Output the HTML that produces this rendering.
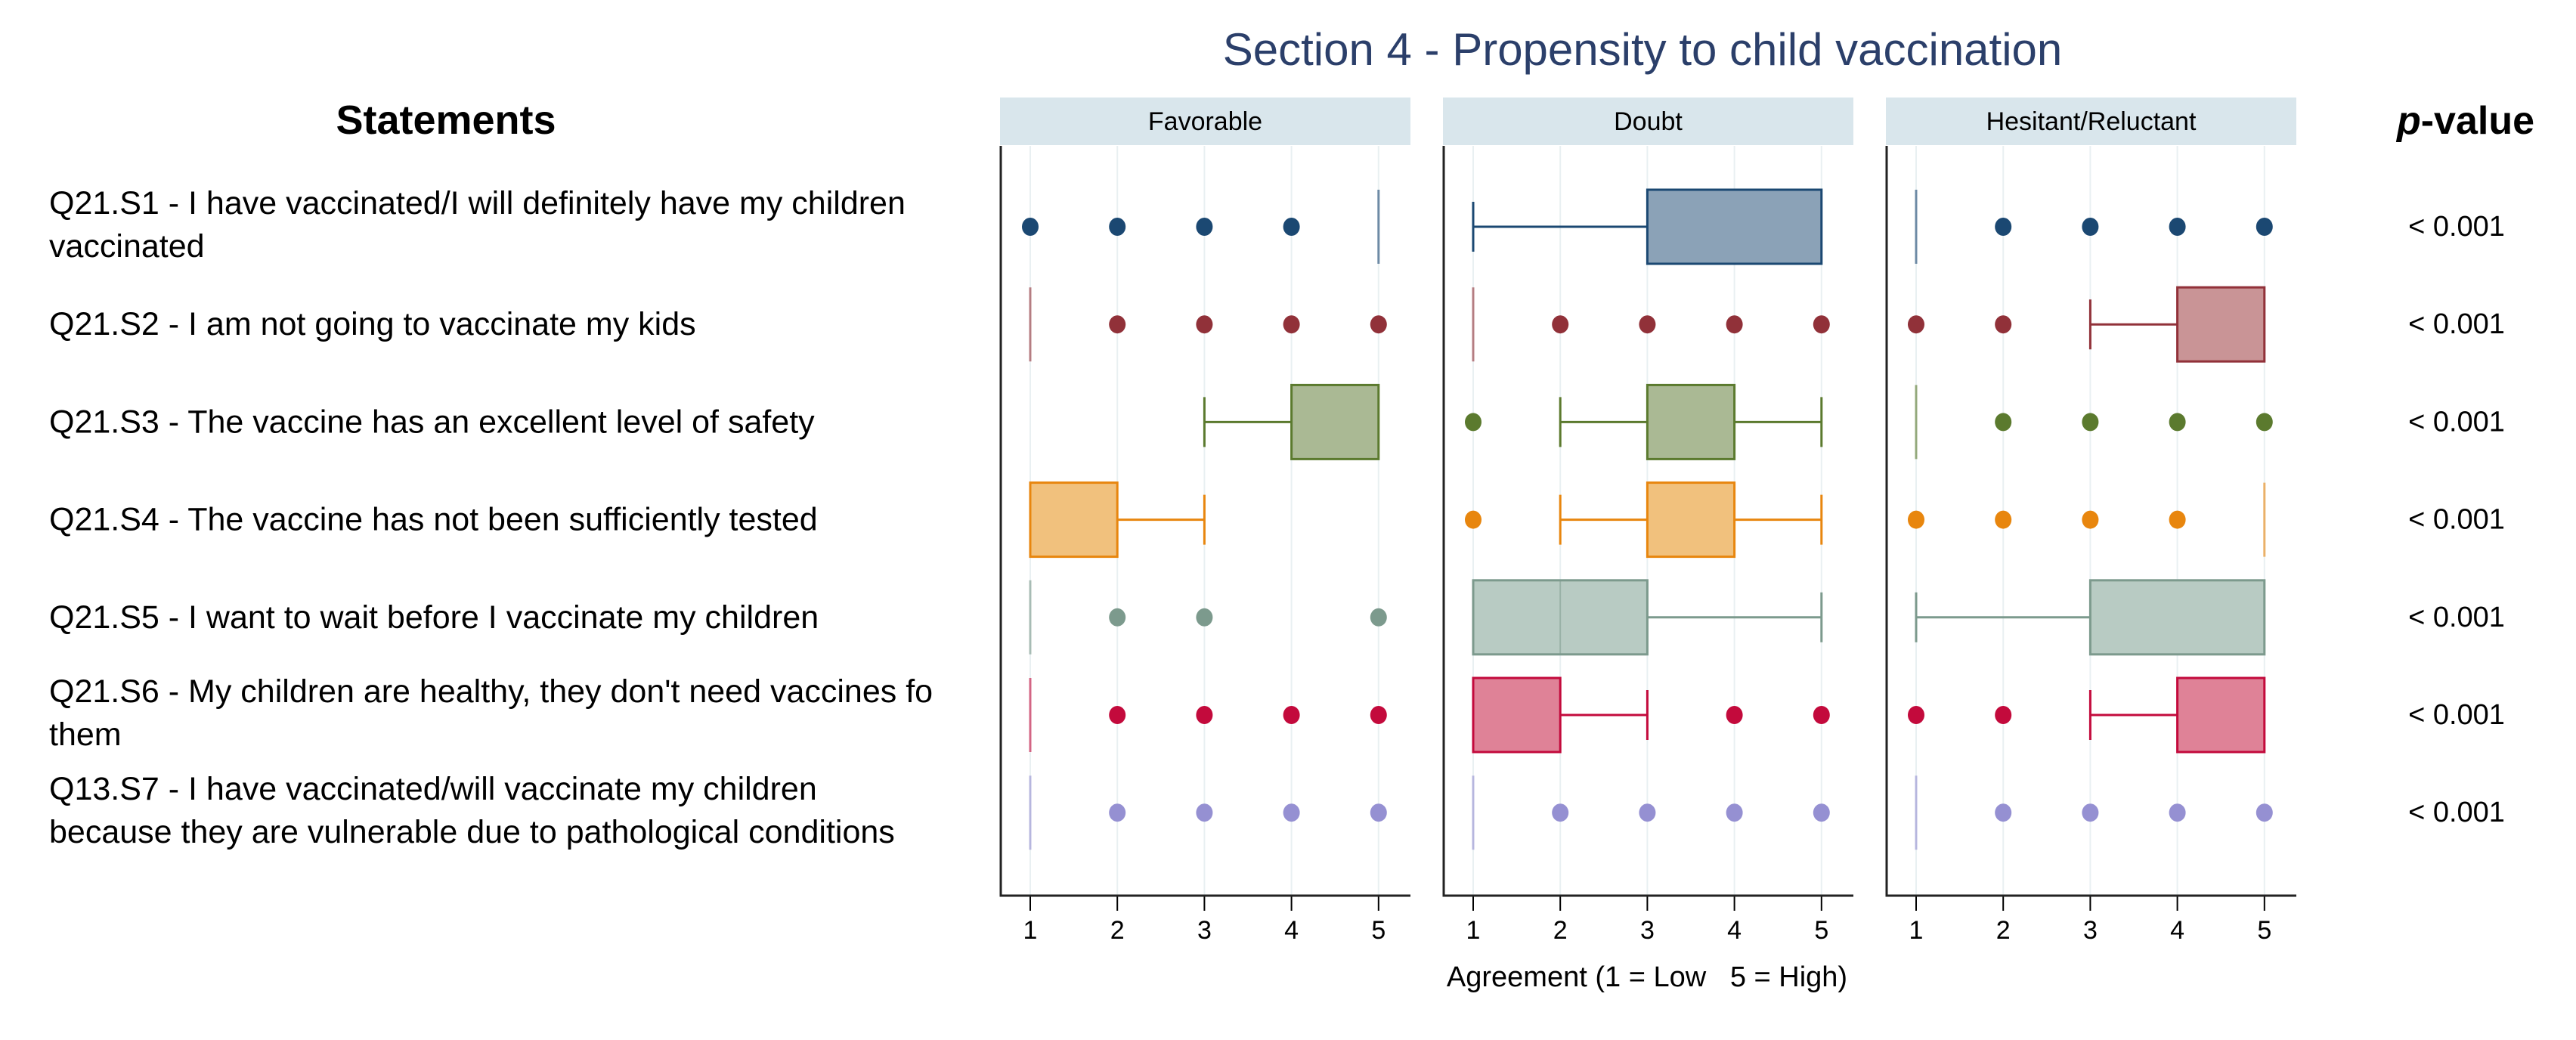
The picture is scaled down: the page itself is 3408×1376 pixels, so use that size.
<!DOCTYPE html>
<html><head><meta charset="utf-8">
<style>
html,body{margin:0;padding:0;background:#fff;}
svg{display:block;font-family:"Liberation Sans",sans-serif;}
</style></head>
<body>
<svg id="chart" width="3408" height="1376" viewBox="0 0 3408 1376" xmlns="http://www.w3.org/2000/svg">
<text x="2173" y="86" text-anchor="middle" font-size="60" fill="#2b3f6a">Section 4 - Propensity to child vaccination</text>
<text x="590" y="177" text-anchor="middle" font-size="54" font-weight="bold" fill="#000">Statements</text>
<text x="3262" y="177" text-anchor="middle" font-size="52" font-weight="bold" fill="#000"><tspan font-style="italic">p</tspan>-value</text>
<text x="2179" y="1305" text-anchor="middle" font-size="38" fill="#000" xml:space="preserve">Agreement (1 = Low   5 = High)</text>
<g id="stmts"></g>
<g id="panels"></g>
</svg>
<script>
const statements = [
 ["Q21.S1 - I have vaccinated/I will definitely have my children","vaccinated"],
 ["Q21.S2 - I am not going to vaccinate my kids"],
 ["Q21.S3 - The vaccine has an excellent level of safety"],
 ["Q21.S4 - The vaccine has not been sufficiently tested"],
 ["Q21.S5 - I want to wait before I vaccinate my children"],
 ["Q21.S6 - My children are healthy, they don't need vaccines fo","them"],
 ["Q13.S7 - I have vaccinated/will vaccinate my children","because they are vulnerable due to pathological conditions"]
];
const pValues = ["< 0.001","< 0.001","< 0.001","< 0.001","< 0.001","< 0.001","< 0.001"];
const groups = ["Favorable","Doubt","Hesitant/Reluctant"];
const ticks = [1,2,3,4,5];
// [whiskerLo, q1, median, q3, whiskerHi] per group per statement
const favStats = [[5,5,5,5,5],[1,1,1,1,1],[3,4,5,5,5],[1,1,1,2,3],[1,1,1,1,1],[1,1,1,1,1],[1,1,1,1,1]];
const doubtStats = [[1,3,5,5,5],[1,1,1,1,1],[2,3,3,4,5],[2,3,3,4,5],[1,1,2,3,5],[1,1,1,2,3],[1,1,1,1,1]];
const hesStats = [[1,1,1,1,1],[3,4,5,5,5],[1,1,1,1,1],[5,5,5,5,5],[1,3,5,5,5],[3,4,5,5,5],[1,1,1,1,1]];
const favOut = [[1,2,3,4],[2,3,4,5],[],[],[2,3,5],[2,3,4,5],[2,3,4,5]];
const doubtOut = [[],[2,3,4,5],[1],[1],[],[4,5],[2,3,4,5]];
const hesOut = [[2,3,4,5],[1,2],[2,3,4,5],[1,2,3,4],[],[1,2],[2,3,4,5]];
const lineCol = ["#1b4872","#913139","#5b7a2e","#e8860e","#7c9a8d","#c30a3c","#9590d2"];
const fillCol = ["#8ba2b7","#c99496","#aab994","#f1c17d","#b8cbc3","#df8297","#c6c3ea"];

const NS="http://www.w3.org/2000/svg";
const svg=document.getElementById('chart');
function mk(tag,attrs,parent){const e=document.createElementNS(NS,tag);for(const k in attrs)e.setAttribute(k,attrs[k]);parent.appendChild(e);return e;}
const rowY = i => 300 + i*129.2;
const panelLeft=[1323,1909,2495], panelW=543;
const xScale = (p,v) => panelLeft[p] + 40 + (v-1)*115.2;
const plotTop=193, plotBot=1185;

const sg=document.getElementById('stmts');
statements.forEach((lines,i)=>{
  const t=mk('text',{x:65,'font-size':43,fill:'#000'},sg);
  
  
  const y0 = lines.length===2 ? rowY(i)-17 : rowY(i)+14;
  lines.forEach((l,j)=>{const ts=mk('tspan',{x:65,y:y0+j*57},t);ts.textContent=l;});
  const p=mk('text',{x:3250,y:rowY(i)+12,'text-anchor':'middle','font-size':38,fill:'#000'},sg);
  
  
  p.textContent=pValues[i];
});

const pg=document.getElementById('panels');
const allStats=[favStats,doubtStats,hesStats], allOut=[favOut,doubtOut,hesOut];
groups.forEach((g,p)=>{
  const L=panelLeft[p];
  const grp=mk('g',{},pg);
  
  
  const strip=mk('rect',{x:L,y:129,width:panelW,height:63,fill:'#d9e6ec'},grp);
  
  
  const st=mk('text',{x:L+panelW/2,y:172,'text-anchor':'middle','font-size':34,fill:'#000'},grp);
  
  
  st.textContent=g;
  ticks.forEach(v=>{
    const gl=mk('line',{x1:xScale(p,v),x2:xScale(p,v),y1:plotTop,y2:plotBot,stroke:'#e9f0f2','stroke-width':2},grp);
    
    
    const tk=mk('line',{x1:xScale(p,v),x2:xScale(p,v),y1:plotBot,y2:plotBot+20,stroke:'#000','stroke-width':2},grp);
    
    
    const tl=mk('text',{x:xScale(p,v),y:1242,'text-anchor':'middle','font-size':34,fill:'#000'},grp);
    
    
    tl.textContent=v;
  });
  const ax=mk('path',{d:`M${L+1},${plotTop} V${plotBot} H${L+panelW}`,fill:'none',stroke:'#222','stroke-width':3},grp);
  
  
  allStats[p].forEach((s,i)=>{
    const y=rowY(i), c=lineCol[i], f=fillCol[i];
    const [wl,q1,md,q3,wh]=s;
    if(q1===q3){
      const m=mk('line',{x1:xScale(p,md),x2:xScale(p,md),y1:y-49,y2:y+49,stroke:c,'stroke-width':3,opacity:0.6},grp);
      
      
    } else {
      let d='';
      if(wl<q1) d+=`M${xScale(p,wl)},${y-33}V${y+33}M${xScale(p,wl)},${y}H${xScale(p,q1)}`;
      if(wh>q3) d+=`M${xScale(p,q3)},${y}H${xScale(p,wh)}M${xScale(p,wh)},${y-33}V${y+33}`;
      const w1=mk('path',{d:d||'M0,0',fill:'none',stroke:c,'stroke-width':3},grp);
      
      
      const b=mk('rect',{x:xScale(p,q1),y:y-49,width:xScale(p,q3)-xScale(p,q1),height:98,fill:f,stroke:c,'stroke-width':3},grp);
      
      
      const m=mk('line',{x1:xScale(p,md),x2:xScale(p,md),y1:y-49,y2:y+49,stroke:c,'stroke-width':2,opacity:0.5},grp);
      
      
    }
    allOut[p][i].forEach(v=>{
      const o=mk('ellipse',{cx:xScale(p,v),cy:y,rx:11,ry:12,fill:c},grp);
      
      
    });
  });
});
</script>
</body></html>
